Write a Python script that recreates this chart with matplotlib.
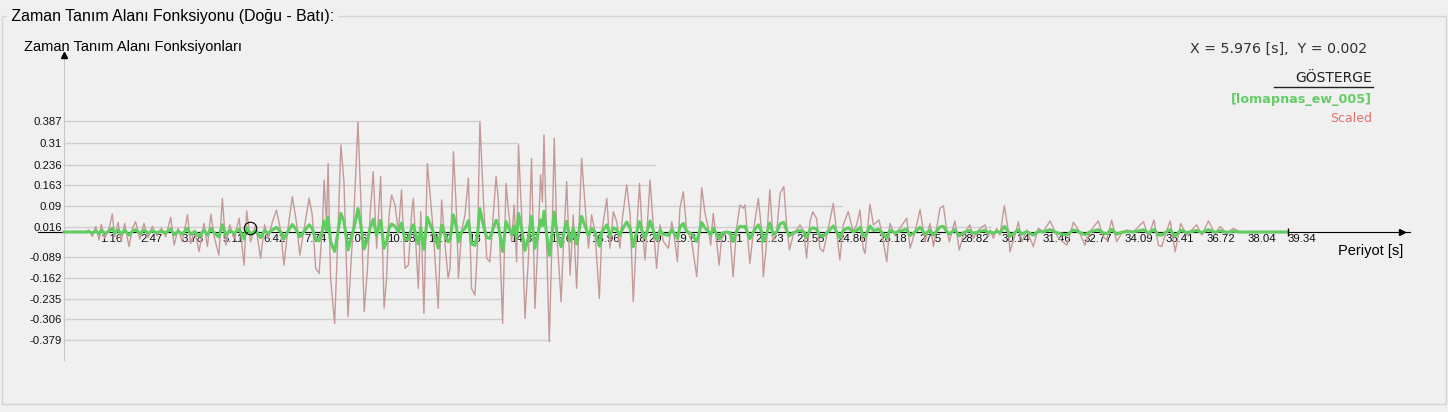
import matplotlib
matplotlib.use("Agg")
from matplotlib import pyplot as plt
from matplotlib.patches import Rectangle

# Scaled record (red): time [s] and amplitude
scaled_time = [
    0.00, 0.70, 0.80, 0.91, 1.02, 1.13, 1.20, 1.31, 1.45, 1.55, 1.63, 1.74, 1.84, 1.95,
    2.09, 2.20, 2.30, 2.44, 2.57, 2.70, 2.84, 2.98, 3.13, 3.27, 3.43, 3.54, 3.67, 3.80,
    3.97, 4.07, 4.20, 4.34, 4.50, 4.61, 4.72, 4.84, 4.98, 5.09, 5.20, 5.33, 5.47, 5.63,
    5.79, 5.87, 6.00, 6.16, 6.32, 6.45, 6.56, 6.70, 6.83, 6.97, 7.07, 7.20, 7.34, 7.47,
    7.58, 7.72, 7.88, 7.98, 8.09, 8.20, 8.31, 8.36, 8.44, 8.49, 8.57, 8.70, 8.79, 8.90,
    9.00, 9.13, 9.24, 9.32, 9.45, 9.54, 9.65, 9.75, 9.84, 9.94, 10.05, 10.18, 10.29,
    10.37, 10.45, 10.53, 10.64, 10.75, 10.85, 10.96, 11.07, 11.18, 11.23, 11.39, 11.47,
    11.57, 11.68, 11.77, 11.87, 12.03, 12.14, 12.25, 12.35, 12.41, 12.52, 12.62, 12.68,
    12.78, 12.89, 13.00, 13.10, 13.21, 13.29, 13.37, 13.48, 13.59, 13.69, 13.80, 13.89,
    13.96, 14.10, 14.21, 14.28, 14.39, 14.47, 14.55, 14.61, 14.71, 14.82, 14.93, 15.03,
    15.14, 15.25, 15.32, 15.38, 15.43, 15.52, 15.60, 15.68, 15.76, 15.84, 15.98, 16.05,
    16.16, 16.27, 16.37, 16.48, 16.64, 16.75, 16.86, 16.96, 17.07, 17.21, 17.29, 17.45,
    17.55, 17.66, 17.77, 17.87, 17.95, 18.09, 18.20, 18.30, 18.41, 18.50, 18.57, 18.68,
    18.84, 18.95, 19.05, 19.16, 19.27, 19.43, 19.54, 19.64, 19.72, 19.80, 19.91, 20.01,
    20.18, 20.34, 20.41, 20.50, 20.60, 20.71, 20.79, 20.87, 20.98, 21.06, 21.14, 21.30,
    21.41, 21.51, 21.62, 21.73, 21.84, 21.89, 22.05, 22.16, 22.32, 22.43, 22.48, 22.57,
    22.69, 22.80, 22.91, 23.02, 23.14, 23.23, 23.32, 23.44, 23.66, 23.79, 23.87, 23.98,
    24.07, 24.19, 24.30, 24.41, 24.57, 24.73, 24.84, 24.94, 25.05, 25.21, 25.37, 25.48,
    25.59, 25.69, 25.75, 25.91, 26.02, 26.20, 26.28, 26.45, 26.55, 26.71, 26.87, 27.09,
    27.20, 27.36, 27.52, 27.68, 27.84, 27.95, 28.16, 28.27, 28.37, 28.46, 28.64, 28.78,
    28.91, 29.12, 29.23, 29.45, 29.61, 29.71, 29.77, 29.88, 29.98, 30.09, 30.23, 30.36,
    30.41, 30.57, 30.68, 30.79, 30.95, 31.16, 31.32, 31.48, 31.70, 31.86, 31.97, 32.24,
    32.45, 32.61, 32.82, 32.98, 33.25, 33.41, 33.52, 33.68, 33.84, 34.00, 34.16, 34.38,
    34.70, 34.86, 35.04, 35.18, 35.29, 35.40, 35.56, 35.72, 35.90, 36.09, 36.20, 36.41,
    36.58, 36.79, 37.00, 37.17, 37.38, 37.59, 37.81, 38.02, 39.34,
]
scaled_value = [
    0.000, 0.000, 0.007, -0.016, 0.019, -0.028, 0.027, -0.022, 0.013, 0.063, -0.016, 0.034, -0.034, 0.030,
    -0.051, 0.013, 0.036, -0.025, 0.030, -0.020, 0.019, -0.013, 0.013, -0.016, 0.051, -0.046, 0.013, -0.034,
    0.060, -0.040, 0.007, -0.069, 0.030, -0.051, 0.062, -0.022, -0.081, 0.118, -0.046, 0.025, -0.022, 0.048,
    -0.116, 0.074, -0.034, 0.025, -0.092, 0.025, -0.022, 0.036, 0.077, 0.001, -0.116, 0.013, 0.124, 0.036,
    -0.081, 0.013, 0.118, 0.060, -0.127, -0.145, 0.025, 0.182, 0.025, 0.240, -0.162, -0.320, -0.057, 0.305,
    0.176, -0.296, -0.081, 0.060, 0.386, 0.118, -0.279, -0.139, 0.060, 0.211, -0.057, 0.194, -0.267,
    -0.162, 0.060, 0.130, 0.095, 0.001, 0.147, -0.127, -0.116, 0.071, 0.118, -0.197, 0.071,
    -0.285, 0.240, 0.130, 0.001, -0.267, 0.112, -0.046, -0.162, -0.127, 0.281, 0.060, -0.162,
    0.001, 0.060, 0.188, -0.197, -0.221, -0.057, 0.384, 0.118, -0.092, -0.104, 0.060, 0.194,
    0.118, -0.320, 0.170, 0.083, -0.034, 0.095, -0.104, 0.305, 0.060, -0.302, -0.092, 0.258,
    -0.267, 0.001, 0.200, 0.105, 0.340, -0.057, -0.384, -0.057, 0.328, 0.001, -0.244, -0.057,
    0.176, -0.151, 0.060, -0.197, 0.258, 0.095, -0.057, 0.060, 0.001, -0.233, 0.001, 0.118,
    -0.057, 0.071, 0.036, -0.057, 0.048, 0.165, 0.060, -0.244, 0.001, 0.170, 0.036, -0.098,
    0.182, 0.013, -0.127, 0.025, -0.034, -0.057, 0.036, -0.034, -0.104, 0.083, 0.141, 0.013,
    -0.034, -0.156, -0.034, 0.155, 0.071, 0.013, -0.046, 0.065, -0.034, -0.116, -0.022, 0.001,
    -0.011, -0.156, 0.013, 0.095, 0.083, 0.095, -0.110, 0.001, 0.118, 0.001, -0.156, -0.057,
    0.147, -0.034, 0.001, 0.135, 0.159, 0.025, -0.063, -0.011, 0.025, 0.001, -0.092, 0.036,
    0.071, 0.048, -0.057, -0.069, 0.013, 0.100, 0.001, -0.098, 0.025, 0.071, 0.001, 0.025,
    0.077, -0.057, -0.075, 0.097, 0.025, 0.042, 0.001, -0.104, 0.030, -0.011, 0.013, 0.048,
    -0.057, 0.001, 0.079, -0.034, 0.030, -0.051, 0.083, 0.092, 0.013, -0.034, 0.039, -0.063,
    -0.011, 0.025, -0.022, 0.013, 0.025, -0.016, 0.007, -0.022, 0.013, -0.011, 0.092, 0.001,
    -0.069, -0.011, 0.036, -0.034, 0.007, -0.051, 0.013, 0.001, 0.039, 0.001, -0.022, -0.046,
    0.034, 0.007, -0.046, 0.001, 0.039, -0.016, -0.028, 0.042, -0.034, -0.005, 0.007, 0.001,
    0.036, -0.016, 0.042, -0.046, -0.051, -0.011, 0.039, -0.069, 0.030, -0.011, 0.001, 0.025,
    -0.011, 0.039, -0.005, 0.019, -0.005, 0.013, -0.001, 0.000, 0.000,
]

# the green record is the unscaled motion; scale factor read from matching peaks
scale_factor = 4.7
record_value = [v / scale_factor for v in scaled_value]

x_ticks = [1.16, 2.47, 3.78, 5.11, 6.42, 7.74, 9.06, 10.38, 11.7, 13.0, 14.33, 15.64,
           16.96, 18.29, 19.6, 20.91, 22.23, 23.55, 24.86, 26.18, 27.5, 28.82, 30.14,
           31.46, 32.77, 34.09, 35.41, 36.72, 38.04, 39.34]
y_ticks = [0.387, 0.31, 0.236, 0.163, 0.09, 0.016, -0.089, -0.162, -0.235, -0.306, -0.379]
y_tick_labels = ["0.387", "0.31", "0.236", "0.163", "0.09", "0.016",
                 "-0.089", "-0.162", "-0.235", "-0.306", "-0.379"]
# how far each horizontal grid line runs along the time axis [s]
grid_extent = [13.37, 14.59, 19.0, 18.8, 25.0, 29.8, 19.0, 16.0, 14.1, 14.08, 15.62]

cursor_x, cursor_y = 5.976, 0.002

bg = "#f0f0f0"
W, H = 1448, 412
fig = plt.figure(figsize=(W / 100, H / 100), dpi=100, facecolor=bg)

# group box frame and caption
fig.patches.append(Rectangle((2 / W, 1 - 404 / H), 1444 / W, 388 / H, transform=fig.transFigure,
                             fill=False, edgecolor="#d4d4d4", linewidth=1))
fig.text(7 / W, 1 - 16 / H, " Zaman Tanım Alanı Fonksiyonu (Doğu - Batı): ", fontsize=11.4,
         family="Liberation Sans", color="black", va="center", ha="left",
         bbox=dict(facecolor=bg, edgecolor="none", pad=0))
fig.text(24 / W, 1 - 47 / H, "Zaman Tanım Alanı Fonksiyonları", fontsize=10.5,
         family="Liberation Sans", color="black", va="center", ha="left")

ax = fig.add_axes([38 / W, 1 - 360 / H, 1372 / W, 305 / H])
ax.set_facecolor(bg)
ax.set_xlim(-0.836, 43.27)
ax.set_ylim(-0.448, 0.6195)

for side in ["top", "right"]:
    ax.spines[side].set_visible(False)
ax.spines["left"].set_position(("data", 0))
ax.spines["left"].set_color("#c8c8c8")
ax.spines["bottom"].set_position(("data", 0))
ax.spines["bottom"].set_color("black")
ax.spines["bottom"].set_zorder(2.2)
ax.set_axisbelow(True)

ax.set_yticks(y_ticks)
ax.set_yticklabels(y_tick_labels, family="Liberation Sans", fontsize=8.2, color="#111111")
ax.tick_params(axis="y", length=0, pad=1.5)
ax.set_xticks(x_ticks)
ax.set_xticklabels([f"{t:g}" for t in x_ticks], family="Liberation Sans", fontsize=8.2,
                   color="#111111", ha="left")
ax.tick_params(axis="x", length=0, pad=1.5)

for level, extent in zip(y_ticks, grid_extent):
    ax.plot([0, extent], [level, level], color="#cfcfcf", linewidth=1, zorder=1)

ax.plot(scaled_time, scaled_value, color="#c49a98", linewidth=1.0, zorder=3)
ax.plot(scaled_time, record_value, color="#5fcd5f", linewidth=2.2, zorder=4)

# end of record tick and cursor marker
ax.plot([scaled_time[-1]], [0], marker="|", markersize=6, color="black", zorder=5)
ax.plot([cursor_x], [cursor_y + 0.012], marker="o", markersize=9, markerfacecolor="none",
        markeredgecolor="black", markeredgewidth=0.8, zorder=5)

# axis arrows
ax.plot([0], [0.6195], marker="^", markersize=4, color="black", clip_on=False, zorder=5)
ax.plot([43.0], [0], marker=">", markersize=5, color="black", clip_on=False, zorder=5)

fig.text(1403 / W, 1 - 251 / H, "Periyot [s]", fontsize=10.5, family="Liberation Sans",
         ha="right", va="center", color="black")

# cursor readout and legend
fig.text(1367 / W, 1 - 49 / H, "X = 5.976 [s],  Y = 0.002", fontsize=10.2, family="DejaVu Sans",
         ha="right", va="center", color="#333333")
fig.text(1372 / W, 1 - 78 / H, "GÖSTERGE", fontsize=10, family="DejaVu Sans",
         ha="right", va="center", color="#222222")
fig.add_artist(plt.Line2D([1274 / W, 1373 / W], [1 - 87 / H, 1 - 87 / H], color="#222222",
                          linewidth=1, transform=fig.transFigure))
fig.text(1372 / W, 1 - 100 / H, "[lomapnas_ew_005]", fontsize=9.2, family="DejaVu Sans",
         fontweight="bold", ha="right", va="center", color="#66cc66")
fig.text(1372 / W, 1 - 118 / H, "Scaled", fontsize=9, family="DejaVu Sans",
         ha="right", va="center", color="#e07070")

fig.savefig("out.png", dpi=100, facecolor=bg)
